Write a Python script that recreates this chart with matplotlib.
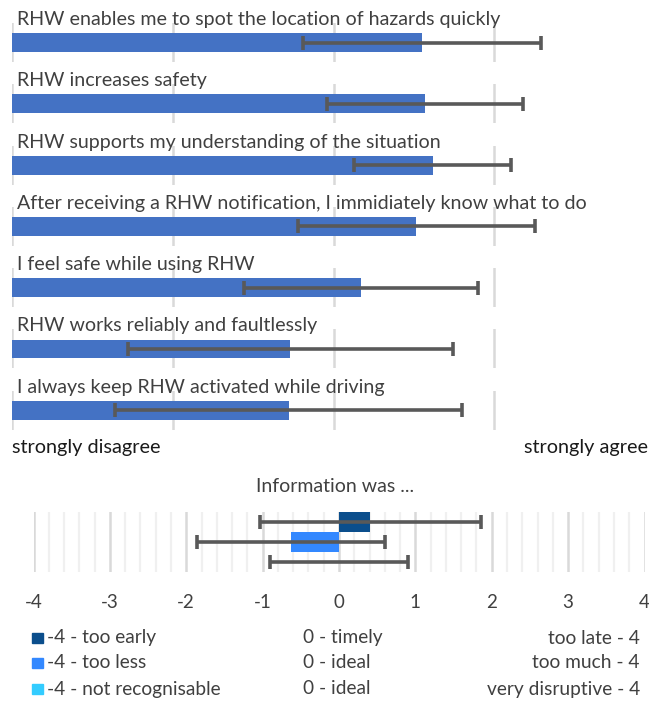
import matplotlib
matplotlib.use("Agg")
import matplotlib.pyplot as plt
from matplotlib.patches import Rectangle

# ---------------- data ----------------
statements = [
    "RHW enables me to spot the location of hazards quickly",
    "RHW increases safety",
    "RHW supports my understanding of the situation",
    "After receiving a RHW notification, I immidiately know what to do",
    "I feel safe while using RHW",
    "RHW works reliably and faultlessly",
    "I always keep RHW activated while driving",
]
statement_means = [3.55, 3.57, 3.615, 3.515, 3.17, 2.73, 2.72]
statement_errs = [0.74, 0.61, 0.49, 0.74, 0.73, 1.01, 1.08]
scale_ticks = [1, 2, 3, 4]

info_title = "Information was ..."
info_means = [0.41, -0.63, 0.0]
info_errs = [1.45, 1.23, 0.90]
info_colors = ["#0B4E8C", "#3388FF", "#33CCFF"]
info_ticks = [-4, -3, -2, -1, 0, 1, 2, 3, 4]
legend_left = ["-4 - too early", "-4 - too less", "-4 - not recognisable"]
legend_mid = ["0 - timely", "0 - ideal", "0 - ideal"]
legend_right = ["too late - 4", "too much - 4", "very disruptive - 4"]

# ---------------- figure ----------------
W, H = 649, 702
fig = plt.figure(figsize=(W / 100, H / 100), dpi=100)
plt.rcParams['font.family'] = ['Lato', 'DejaVu Sans']

def fx(px):
    return px / W

def fy(py):
    return 1 - py / H

BAR_BLUE = "#4472C4"
ERR = "#595959"
GRID = "#D9D9D9"
TXT = "#404040"

x0_px = 12.3
unit_px = 160.7
step = 61.3
for i, (lab, m, e) in enumerate(zip(statements, statement_means, statement_errs)):
    top = 23 + step * i
    bot = 62 + step * i
    ax = fig.add_axes([fx(x0_px), fy(bot), fx(4 * unit_px), (bot - top) / H])
    ax.set_xlim(1, 5)
    ax.set_ylim(-1, 1)
    for t in scale_ticks:
        ax.axvline(t, color=GRID, lw=1.8, zorder=0)
    ax.barh([0], [m - 1], left=1, height=0.97, color=BAR_BLUE, zorder=2)
    ax.errorbar([m], [0], xerr=[e], fmt="none", ecolor=ERR, elinewidth=2.6,
                capsize=4.7, capthick=2.6, zorder=3)
    ax.axis("off")
    fig.text(fx(17), fy(19.5 + step * i), lab, ha="left", va="center",
             fontsize=14.1, color=TXT)

fig.text(fx(12), fy(448), "strongly disagree", ha="left", va="center",
         fontsize=14.3, color="#1a1a1a")
fig.text(fx(648), fy(448), "strongly agree", ha="right", va="center",
         fontsize=14.3, color="#1a1a1a")

# ---------------- bottom chart ----------------
fig.text(fx(335), fy(487), info_title, ha="center", va="center",
         fontsize=14, color=TXT)

bx = fig.add_axes([fx(33.5), fy(572), fx(644.5 - 33.5), 60 / H])
bx.set_xlim(-4, 4)
bx.set_ylim(2.5, -0.5)
k = -4.0
minor = []
while k < 4.001:
    if abs(k - round(k)) > 1e-6:
        minor.append(k)
    k += 0.2
for mv in minor:
    bx.axvline(mv, color="#F0F0F0", lw=1.6, zorder=0)
for t in info_ticks:
    bx.axvline(t, color=GRID, lw=1.8, zorder=0)
ys = list(range(len(info_means)))
bx.barh(ys, info_means, height=1.0, color=info_colors, zorder=2)
bx.errorbar(info_means, ys, xerr=info_errs, fmt="none", ecolor=ERR,
            elinewidth=2.6, capsize=4.7, capthick=2.6, zorder=3)
for s in bx.spines.values():
    s.set_visible(False)
bx.set_yticks([])
bx.set_xticks(info_ticks)
bx.set_xticklabels([str(t) for t in info_ticks])
bx.tick_params(axis="x", length=0, pad=16, labelsize=13.5, labelcolor=TXT)

# ---------------- legend ----------------
rows_y = [638, 663, 689]
for ry, c, l, mtxt, r in zip(rows_y, info_colors, legend_left, legend_mid, legend_right):
    fig.patches.append(Rectangle((fx(32), fy(ry + 5)), fx(10.5), 10.5 / H,
                                 transform=fig.transFigure, color=c))
    fig.text(fx(47), fy(ry), l, ha="left", va="center", fontsize=13.8, color=TXT)
    fig.text(fx(303), fy(ry), mtxt, ha="left", va="center", fontsize=13.8, color=TXT)
    fig.text(fx(640), fy(ry), r, ha="right", va="center", fontsize=13.8, color=TXT)

fig.savefig("out.png", dpi=100)
